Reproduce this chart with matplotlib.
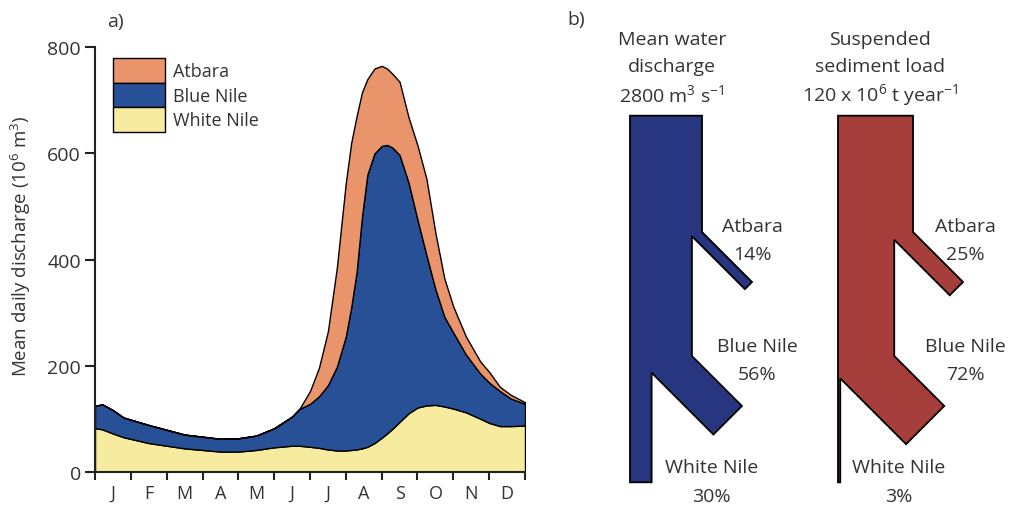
import numpy as np
import matplotlib
matplotlib.use('Agg')
from matplotlib import pyplot as plt
from matplotlib.patches import Polygon

plt.rcParams['font.family'] = ['Open Sans', 'DejaVu Sans']
plt.rcParams['mathtext.fontset'] = 'custom'
plt.rcParams['mathtext.rm'] = 'Open Sans'
plt.rcParams['mathtext.default'] = 'regular'

text_color = '#333333'

# a) mean daily discharge, month position (0 = start of Jan) and values in 10^6 m3
months = [0, 0.2, 0.5, 0.8, 1.5, 2.5, 3.5, 4.0, 4.5, 5.0, 5.5, 5.7, 6.0, 6.25, 6.5,
          6.75, 7.0, 7.15, 7.3, 7.45, 7.6, 7.8, 8.0, 8.15, 8.3, 8.5, 8.75, 9.0,
          9.25, 9.5, 9.75, 10.0, 10.35, 10.75, 11.0, 11.3, 11.6, 12.0]
white_nile = [82, 80, 72, 65, 54, 44, 38, 38, 41, 46, 49, 49, 47, 45, 42,
              40, 40, 41, 42, 44, 47, 54, 64, 72, 81, 94, 110, 121,
              125, 126, 123, 119, 112, 100, 92, 86, 86, 87]
blue_nile = [42, 47, 44, 37, 34, 26, 24, 25, 27, 36, 55, 69, 81, 97, 121,
             158, 215, 269, 334, 436, 513, 546, 550, 544, 530, 503, 435, 354,
             283, 218, 169, 143, 109, 85, 76, 66, 52, 41]
atbara = [0, 0, 0, 0, 0, 0, 0, 0, 0, 0, 0, 0, 24, 54, 102,
          187, 290, 310, 294, 235, 180, 160, 151, 144, 139, 138, 123, 140,
          144, 106, 72, 49, 34, 23, 20, 8, 7, 3]
month_labels = ['J', 'F', 'M', 'A', 'M', 'J', 'J', 'A', 'S', 'O', 'N', 'D']
series_names = ['White Nile', 'Blue Nile', 'Atbara']
series_colors = ['#F7EBA0', '#285096', '#E9946A']

# b) share of the Nile total carried by each tributary (%)
tributaries = ['Atbara', 'Blue Nile', 'White Nile']
water_share = [14, 56, 30]
sediment_share = [25, 72, 3]
water_title = ['Mean water', 'discharge', r'2800 m$^{3}$ s$^{-1}$']
sediment_title = ['Suspended', 'sediment load', r'120 x 10$^{6}$ t year$^{-1}$']

fig = plt.figure(figsize=(10.09, 5.06), dpi=100)

# ---- panel a: stacked discharge ----
ax = fig.add_axes([95 / 1009, 1 - 472.7 / 506, 430 / 1009, 424.4 / 506])
polys = ax.stackplot(months, white_nile, blue_nile, atbara, colors=series_colors,
                     labels=series_names, edgecolor='black', linewidth=1.0)
ax.set_xlim(0, 12)
ax.set_ylim(0, 800)
for s in ['top', 'right']:
    ax.spines[s].set_visible(False)
for s in ['left', 'bottom']:
    ax.spines[s].set_linewidth(1.5)
    ax.spines[s].set_color('#222222')
ax.set_yticks([0, 200, 400, 600, 800])
ax.set_xticks(np.arange(13))
ax.set_xticklabels([])
ax.set_xticks(np.arange(12) + 0.5, minor=True)
ax.set_xticklabels(month_labels, minor=True)
ax.tick_params(axis='y', direction='out', length=7, width=1.5, pad=3,
               labelsize=14, labelcolor=text_color, color='#222222')
ax.tick_params(axis='x', which='major', direction='out', length=6, width=1.5,
               color='#222222')
ax.tick_params(axis='x', which='minor', length=0, pad=9, labelsize=13,
               labelcolor=text_color)
ax.set_ylabel(r'Mean daily discharge (10$^{6}$ m$^{3}$)', fontsize=13.5,
              color=text_color)
ax.yaxis.set_label_coords(-0.144, 0.534)

handles, labels = ax.get_legend_handles_labels()
ax.legend(handles[::-1], labels[::-1], loc='upper left',
          bbox_to_anchor=(0.0426, 0.974), frameon=False, borderpad=0,
          borderaxespad=0, labelspacing=0, handlelength=2.88, handleheight=1.71,
          handletextpad=0.45, fontsize=13, labelcolor=text_color)

fig.text(115 / 1009, 1 - 22 / 506, 'a)', fontsize=14, color=text_color,
         ha='center', va='center')
fig.text(576 / 1009, 1 - 20 / 506, 'b)', fontsize=14, color=text_color,
         ha='center', va='center')

# ---- panel b: tributary schematic, drawn in pixel units ----
bx = fig.add_axes([560 / 1009, 0, 449 / 1009, 1])
bx.set_xlim(560, 1009)
bx.set_ylim(506, 0)
bx.axis('off')

top, bottom = 116.7, 483.3
y_atbara, y_blue = 233, 357
reach = 50
r2 = np.sqrt(2)


def river_outline(x0, width, shares):
    a, b, w = [v / 100 for v in shares]
    ta, tb = a * width, b * width
    xr = x0 + width
    xr2 = xr - ta
    xr3 = x0 + w * width
    return [(x0, top), (xr, top), (xr, y_atbara),
            (xr + reach, y_atbara + reach),
            (xr + reach - ta / r2, y_atbara + reach + ta / r2),
            (xr2, y_atbara + (r2 - 1) * ta),
            (xr2, y_blue),
            (xr2 + reach, y_blue + reach),
            (xr2 + reach - tb / r2, y_blue + reach + tb / r2),
            (xr3, y_blue + (r2 - 1) * tb),
            (xr3, bottom), (x0, bottom)]


diagrams = [
    (630, 72, water_share, '#27367F', water_title, 671.7, (752, 757, 711.7)),
    (838, 75, sediment_share, '#A63F3B', sediment_title, 880, (965, 965, 898.3)),
]
for x0, width, shares, color, title, tx, label_x in diagrams:
    bx.add_patch(Polygon(river_outline(x0, width, shares), closed=True,
                         facecolor=color, edgecolor='black', linewidth=1.3,
                         joinstyle='miter'))
    for line, ty in zip(title, [40, 66.7, 95]):
        bx.text(tx, ty, line, fontsize=14, color=text_color, ha='center',
                va='center')
    label_y = [226.7, 346.7, 468.3]
    for name, share, lx, ly in zip(tributaries, shares, label_x, label_y):
        bx.text(lx, ly, name, fontsize=14, color=text_color, ha='center',
                va='center')
        bx.text(lx, ly + 28.3, f'{share}%', fontsize=14, color=text_color,
                ha='center', va='center')

fig.savefig('out.png', dpi=100)
